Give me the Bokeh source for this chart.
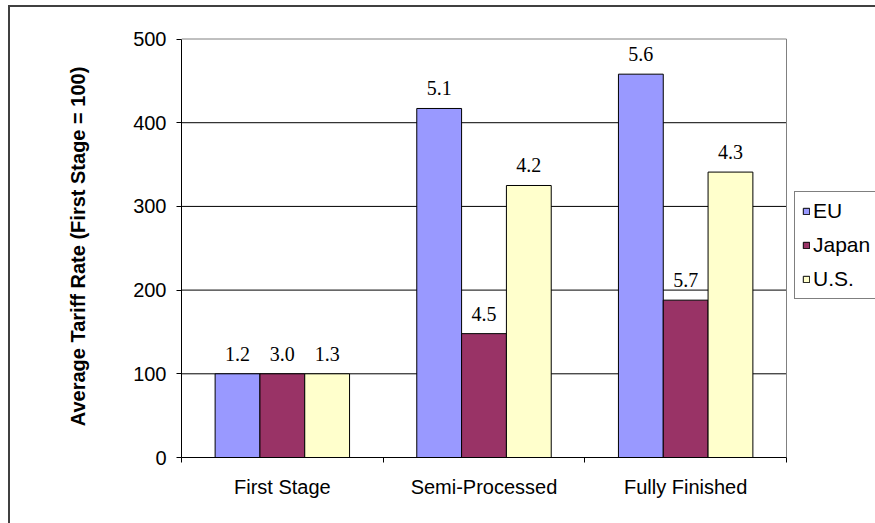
from bokeh.plotting import figure
from bokeh.models import (ColumnDataSource, FixedTicker, LabelSet, Legend, LegendItem,
                          Range1d, InlineStyleSheet)
from bokeh.transform import dodge
from bokeh.embed import file_html
from bokeh.resources import INLINE

# Processing stages and the three markets
categories = ["First Stage", "Semi-Processed", "Fully Finished"]
series = ["EU", "Japan", "U.S."]

# Average tariff index (first stage = 100)
eu_index = [100, 417, 458]
japan_index = [100, 148, 188]
us_index = [100, 325, 341]

# Average tariff rates printed above the bars
eu_rate = ["1.2", "5.1", "5.6"]
japan_rate = ["3.0", "4.5", "5.7"]
us_rate = ["1.3", "4.2", "4.3"]

y_ticks = [0, 100, 200, 300, 400, 500]
colors = ["#9999FF", "#993366", "#FFFFCC"]

SANS = "Liberation Sans"
SERIF = "Liberation Serif"

n = len(categories)
centers = [i + 0.5 for i in range(n)]
bar_w = 1 / 4.5
y_max = y_ticks[-1]

# The frame runs to the right edge of the canvas so the legend (which sits
# beside the plot area) is not clipped; the plot area itself spans 0..n.
p = figure(width=875, height=523,
           x_range=Range1d(0, n * 694 / 605), y_range=Range1d(0, 504.2),
           output_backend="svg", toolbar_location=None,
           min_border_left=181, min_border_right=0,
           min_border_top=35, min_border_bottom=66)

# outer chart frame (its top and left edges are in view)
p.stylesheets = [InlineStyleSheet(css="""
:host { position: relative; }
:host::before {
  content: "";
  position: absolute;
  left: 8px; top: 5px; right: 0; bottom: 0;
  border-left: 2px solid #404040;
  border-top: 2px solid #404040;
  pointer-events: none;
  z-index: 10;
}
""")]

p.background_fill_color = "white"
p.border_fill_color = "white"
p.outline_line_color = None

# horizontal gridlines inside the plot area
grid_y = y_ticks[1:-1]
p.segment(x0=[0] * len(grid_y), x1=[n] * len(grid_y), y0=grid_y, y1=grid_y,
          line_color="black", line_width=1)
# plot-area border (top and right)
p.segment(x0=[0, n], x1=[n, n], y0=[y_max, 0], y1=[y_max, y_max],
          line_color="#808080", line_width=1)

values = [eu_index, japan_index, us_index]
rates = [eu_rate, japan_rate, us_rate]
offsets = [-bar_w, 0, bar_w]

items = []
for name, vals, rts, off, col in zip(series, values, rates, offsets, colors):
    src = ColumnDataSource(dict(x=centers, top=vals, rate=rts))
    r = p.vbar(x=dodge("x", off, range=p.x_range), top="top", width=bar_w,
               source=src, fill_color=col, line_color="black", line_width=1)
    items.append(LegendItem(label=name, renderers=[r]))
    labels = LabelSet(x=dodge("x", off, range=p.x_range), y="top", text="rate",
                      source=src, y_offset=13, text_align="center",
                      text_baseline="alphabetic", text_font=SERIF,
                      text_font_size="20px", text_color="black",
                      background_fill_color="white", background_fill_alpha=1.0)
    p.add_layout(labels)

# y axis
p.yaxis.bounds = (0, y_max)
p.yaxis.ticker = FixedTicker(ticks=y_ticks)
p.yaxis.axis_line_color = "black"
p.yaxis.major_tick_line_color = "black"
p.yaxis.major_tick_out = 5
p.yaxis.major_tick_in = 0
p.yaxis.minor_tick_line_color = None
p.yaxis.major_label_text_font = SANS
p.yaxis.major_label_text_font_size = "20px"
p.yaxis.major_label_text_color = "black"
p.yaxis.major_label_standoff = 10
p.yaxis.axis_label = "Average Tariff Rate (First Stage = 100)"
p.yaxis.axis_label_text_font = SANS
p.yaxis.axis_label_text_font_size = "20px"
p.yaxis.axis_label_text_font_style = "bold"
p.yaxis.axis_label_text_color = "black"
p.yaxis.axis_label_standoff = 41

# x axis: labels at group centres, tick marks at group boundaries
p.xaxis.bounds = (0, n)
p.xaxis.ticker = FixedTicker(ticks=centers, minor_ticks=list(range(n + 1)))
p.xaxis.major_label_overrides = {c: name for c, name in zip(centers, categories)}
p.xaxis.axis_line_color = "black"
p.xaxis.major_tick_out = 0
p.xaxis.major_tick_in = 0
p.xaxis.minor_tick_out = 5
p.xaxis.minor_tick_in = 0
p.xaxis.minor_tick_line_color = "black"
p.xaxis.major_label_text_font = SANS
p.xaxis.major_label_text_font_size = "20px"
p.xaxis.major_label_text_color = "black"
p.xaxis.major_label_standoff = 13

p.xgrid.grid_line_color = None
p.ygrid.grid_line_color = None

legend = Legend(items=items, location=(613, 158),
                label_text_font=SANS, label_text_font_size="21px",
                label_text_color="black", label_height=24, label_width=72,
                glyph_width=8, glyph_height=8, label_standoff=3,
                spacing=10, padding=7, margin=0,
                border_line_color="black", border_line_width=1,
                background_fill_color="white", background_fill_alpha=1.0)
p.add_layout(legend)

open("out.html", "w").write(file_html(p, INLINE))
